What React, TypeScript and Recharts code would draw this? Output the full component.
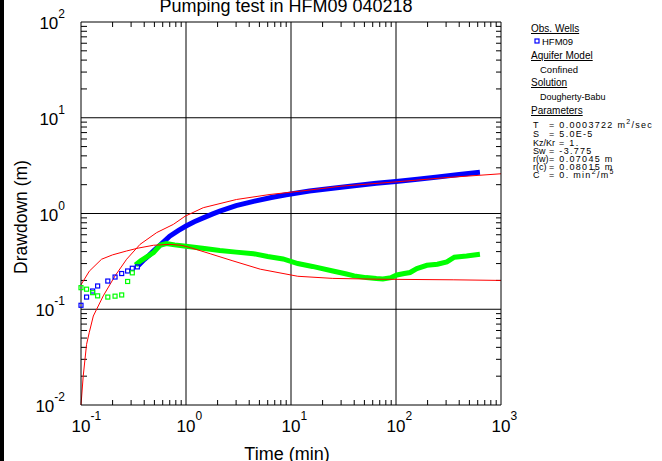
import { ComposedChart, Line, Scatter, XAxis, YAxis, ReferenceLine } from "recharts";

const FONT = '"Liberation Sans", Arial, sans-serif';

// HFM09 observed drawdown (time in min, drawdown in m)
const obsTimeEarly = [0.1, 0.113, 0.129, 0.144, 0.18, 0.211, 0.244, 0.278, 0.308, 0.344];
const obsDrawEarly = [0.11, 0.134, 0.155, 0.175, 0.197, 0.217, 0.236, 0.251, 0.268, 0.277];
const obsTime = [0.35, 0.4, 0.45, 0.5, 0.57, 0.7, 0.85, 1.0, 1.2, 1.46, 1.8, 2.1, 3.0, 4.4, 6.5, 9.0, 15, 25, 40, 65, 100, 160, 250, 400, 630];
const obsDraw = [0.285, 0.33, 0.37, 0.415, 0.47, 0.58, 0.665, 0.74, 0.82, 0.9, 0.99, 1.06, 1.21, 1.34, 1.47, 1.57, 1.72, 1.84, 1.95, 2.07, 2.16, 2.28, 2.41, 2.55, 2.7];

// derivative of observed drawdown
const derTimeEarly = [0.1, 0.113, 0.129, 0.144, 0.18, 0.211, 0.244, 0.278, 0.308];
const derEarly = [0.168, 0.162, 0.149, 0.138, 0.134, 0.137, 0.141, 0.195, 0.24];
const derTime = [0.33, 0.37, 0.42, 0.49, 0.565, 0.65, 0.78, 1.0, 1.5, 2.1, 3.0, 4.4, 6.0, 8.4, 11.6, 16, 25, 33, 40, 52, 65, 75, 90, 102, 120, 136, 158, 197, 248, 305, 330, 360, 470, 630];
const derVal = [0.29, 0.32, 0.35, 0.39, 0.466, 0.486, 0.47, 0.455, 0.43, 0.41, 0.395, 0.38, 0.355, 0.335, 0.3, 0.28, 0.251, 0.235, 0.223, 0.214, 0.209, 0.207, 0.214, 0.228, 0.236, 0.242, 0.266, 0.288, 0.295, 0.312, 0.33, 0.35, 0.36, 0.375];

// Dougherty-Babu type curves
const modelTime = [0.1, 0.105, 0.113, 0.12, 0.131, 0.163, 0.211, 0.272, 0.365, 0.526, 0.758, 0.98, 1.46, 3.02, 6.3, 12.2, 30, 100, 300, 1000];
const modelDraw = [0.01, 0.0201, 0.043, 0.0575, 0.085, 0.138, 0.223, 0.333, 0.476, 0.632, 0.77, 0.937, 1.15, 1.4, 1.58, 1.71, 1.93, 2.14, 2.37, 2.6];
const modelDerTime = [0.1, 0.12, 0.157, 0.2, 0.272, 0.35, 0.49, 0.7, 0.9, 1.1, 1.7, 2.8, 5.1, 11.6, 25, 65, 350, 1000];
const modelDer = [0.18, 0.25, 0.333, 0.37, 0.406, 0.435, 0.466, 0.476, 0.466, 0.44, 0.38, 0.32, 0.262, 0.221, 0.21, 0.206, 0.203, 0.2];

const X_DECADES = [0.1, 1, 10, 100, 1000];
const X_EXP = ["-1", "0", "1", "2", "3"];
const Y_DECADES = [0.01, 0.1, 1, 10, 100];
const Y_EXP = ["-2", "-1", "0", "1", "2"];
const MINOR = [2, 3, 4, 5, 6, 7, 8, 9];

const minorTicks = (dec: number[]) =>
  dec.slice(0, -1).flatMap((d) => MINOR.map((m) => +(d * m).toPrecision(3)));
const xMinor = minorTicks(X_DECADES);
const yMinor = minorTicks(Y_DECADES);

const pts = (t: number[], s: number[]) => t.map((v, i) => ({ t: v, s: s[i] }));

const square = (color: string) => (p: any) =>
  <rect x={p.cx - 2} y={p.cy - 2} width={4} height={4} fill="none" stroke={color} strokeWidth={1.2} />;

// short inward ticks at both ends of a (virtual) reference line
const xMinorShape = (p: any) => {
  const top = Math.min(p.y1, p.y2), bot = Math.max(p.y1, p.y2);
  return (
    <g>
      <line x1={p.x1} y1={top} x2={p.x1} y2={top + 5} stroke="#000" strokeWidth={1} />
      <line x1={p.x1} y1={bot} x2={p.x1} y2={bot - 5} stroke="#000" strokeWidth={1} />
    </g>
  );
};
const yMinorShape = (p: any) => {
  const left = Math.min(p.x1, p.x2), right = Math.max(p.x1, p.x2);
  return (
    <g>
      <line x1={left} y1={p.y1} x2={left + 6} y2={p.y1} stroke="#000" strokeWidth={1} />
      <line x1={right} y1={p.y1} x2={right - 5} y2={p.y1} stroke="#000" strokeWidth={1} />
    </g>
  );
};

function makeTick(side: string, decades: number[], exps: string[]) {
  return (p: any) => {
    const { x, y, payload } = p;
    const i = decades.indexOf(payload.value);
    if (i < 0) return <g />;
    if (side === "bottom")
      return (
        <text x={x - 9.5} y={y + 27} fontSize={17} fontFamily={FONT} fill="#000">
          10<tspan dy={-12} fontSize={12}>{exps[i]}</tspan>
        </text>
      );
    return (
      <text x={x - 16} y={y + 7} textAnchor="end" fontSize={17} fontFamily={FONT} fill="#000">
        10<tspan dy={-11} fontSize={12}>{exps[i]}</tspan>
      </text>
    );
  };
}

const axisLine = { stroke: "#000", strokeWidth: 1 };

export default function App() {
  const head = (y: number, label: string) => (
    <text x={531} y={y} fontSize={10} style={{ textDecoration: "underline" }}>{label}</text>
  );
  const param = (y: number, name: string, value: any) => (
    <g>
      <text x={533} y={y} fontSize={9}>{name}</text>
      <text x={name === "Kz/Kr" ? 559 : 549} y={y} fontSize={9} letterSpacing={1.3}>{value}</text>
    </g>
  );
  return (
    <div style={{ position: "fixed", left: 0, top: 0, width: 662, height: 461, background: "#fff", overflow: "hidden" }}>
      <ComposedChart width={662} height={461} margin={{ top: 12, right: 151, bottom: 26, left: 41 }}>
        <XAxis xAxisId="b" dataKey="t" type="number" scale="log" domain={[0.1, 1000]} ticks={X_DECADES} interval={0}
          height={30} tickSize={0} tickMargin={0} tickLine={false} axisLine={axisLine}
          tick={makeTick("bottom", X_DECADES, X_EXP)} />
        <XAxis xAxisId="t" orientation="top" dataKey="t" type="number" scale="log" domain={[0.1, 1000]}
          ticks={X_DECADES} height={10} tickLine={false} tick={false} axisLine={axisLine} />
        <YAxis yAxisId="l" dataKey="s" type="number" scale="log" domain={[0.01, 100]} ticks={Y_DECADES} interval={0}
          width={40} tickSize={0} tickMargin={0} tickLine={false} axisLine={axisLine}
          tick={makeTick("left", Y_DECADES, Y_EXP)} />
        <YAxis yAxisId="r" orientation="right" dataKey="s" type="number" scale="log" domain={[0.01, 100]}
          ticks={Y_DECADES} width={10} tickLine={false} tick={false} axisLine={axisLine} />

        {xMinor.map((v) => (
          <ReferenceLine key={"xm" + v} xAxisId="b" yAxisId="l" x={v} shape={xMinorShape} />
        ))}
        {yMinor.map((v) => (
          <ReferenceLine key={"ym" + v} xAxisId="b" yAxisId="l" y={v} shape={yMinorShape} />
        ))}
        {X_DECADES.slice(1, -1).map((v) => (
          <ReferenceLine key={"x" + v} xAxisId="b" yAxisId="l" x={v} stroke="#000" strokeWidth={1} />
        ))}
        {Y_DECADES.slice(1, -1).map((v) => (
          <ReferenceLine key={"y" + v} xAxisId="b" yAxisId="l" y={v} stroke="#000" strokeWidth={1} />
        ))}

        <Line xAxisId="b" yAxisId="l" data={pts(obsTime, obsDraw)} dataKey="s" stroke="#0000ff" strokeWidth={5}
          dot={false} isAnimationActive={false} />
        <Scatter xAxisId="b" yAxisId="l" data={pts(obsTimeEarly, obsDrawEarly)} dataKey="s" shape={square("#0000ff")}
          isAnimationActive={false} />
        <Line xAxisId="b" yAxisId="l" data={pts(derTime, derVal)} dataKey="s" stroke="#00ff00" strokeWidth={5}
          dot={false} isAnimationActive={false} />
        <Scatter xAxisId="b" yAxisId="l" data={pts(derTimeEarly, derEarly)} dataKey="s" shape={square("#00ff00")}
          isAnimationActive={false} />
        <Line xAxisId="b" yAxisId="l" data={pts(modelTime, modelDraw)} dataKey="s" stroke="#ff0000" strokeWidth={1}
          dot={false} isAnimationActive={false} />
        <Line xAxisId="b" yAxisId="l" data={pts(modelDerTime, modelDer)} dataKey="s" stroke="#ff0000" strokeWidth={1}
          dot={false} isAnimationActive={false} />
      </ComposedChart>

      <div style={{ position: "absolute", left: 0, top: 0, width: 4, height: 461, background: "#000" }} />

      <svg width={662} height={461} style={{ position: "absolute", left: 0, top: 0, pointerEvents: "none" }}
        fontFamily={FONT} fill="#000">
        <text x={286} y={12} textAnchor="middle" fontSize={18}>Pumping test in HFM09 040218</text>
        <text x={287} y={460} textAnchor="middle" fontSize={18}>Time (min)</text>
        <text x={27} y={217} textAnchor="middle" fontSize={17.5} transform="rotate(-90 27 217)">Drawdown (m)</text>

        {head(32, "Obs. Wells")}
        <rect x={535} y={39} width={4} height={4} fill="none" stroke="#0000ff" strokeWidth={1.2} />
        <text x={542} y={45} fontSize={9.5}>HFM09</text>
        {head(59, "Aquifer Model")}
        <text x={540} y={73} fontSize={9.5}>Confined</text>
        {head(86, "Solution")}
        <text x={540} y={100} fontSize={9}>Dougherty-Babu</text>
        {head(114, "Parameters")}
        {param(128, "T", <>= 0.0003722 m<tspan dy={-4} fontSize={7}>2</tspan><tspan dy={4}>/sec</tspan></>)}
        {param(137, "S", "= 5.0E-5")}
        {param(145.5, "Kz/Kr", "= 1.")}
        {param(154, "Sw", "= -3.775")}
        {param(162, "r(w)", "= 0.07045 m")}
        {param(170, "r(c)", "= 0.08015 m")}
        {param(178, "C", <>= 0. min<tspan dy={-4} fontSize={7}>2</tspan><tspan dy={4}>/m</tspan><tspan dy={-4} fontSize={7}>5</tspan></>)}
      </svg>
    </div>
  );
}
